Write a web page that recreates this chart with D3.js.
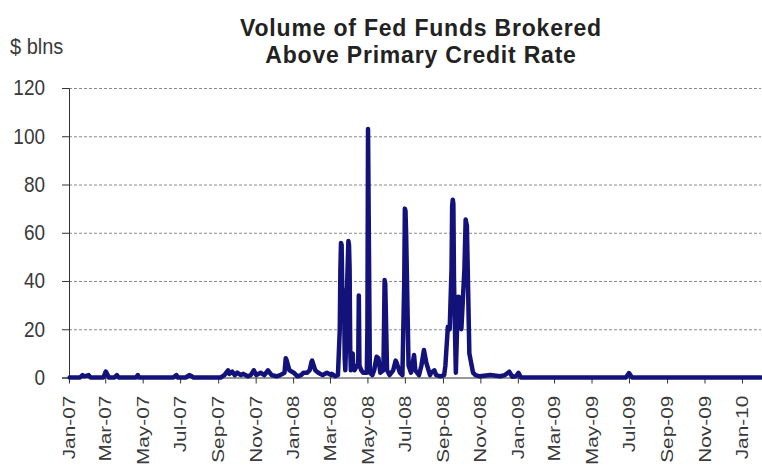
<!DOCTYPE html>
<html>
<head>
<meta charset="utf-8">
<script src="https://cdn.jsdelivr.net/npm/d3@7"></script>
<style>
  body { margin: 0; background: #fff; }
  text { font-family: "Liberation Sans", Arial, sans-serif; }
</style>
</head>
<body>
<svg width="762" height="468"></svg>
<script>
// volume brokered above primary credit rate, $ blns
let dates = [
  '2007-01-02', '2007-01-19', '2007-01-23', '2007-01-26', '2007-02-02', '2007-02-05',
  '2007-02-26', '2007-03-02', '2007-03-07', '2007-03-16', '2007-03-20', '2007-03-23',
  '2007-04-20', '2007-04-23', '2007-04-25', '2007-06-20', '2007-06-25', '2007-06-27',
  '2007-07-10', '2007-07-16', '2007-07-20', '2007-07-23',
  '2007-09-05', '2007-09-11', '2007-09-17', '2007-09-19', '2007-09-24', '2007-09-28',
  '2007-10-02', '2007-10-08', '2007-10-12', '2007-10-19', '2007-10-24', '2007-10-29',
  '2007-11-02', '2007-11-09', '2007-11-15', '2007-11-21', '2007-11-27', '2007-12-05',
  '2007-12-11', '2007-12-18', '2007-12-20', '2007-12-21', '2007-12-26', '2008-01-02',
  '2008-01-08', '2008-01-14', '2008-01-18', '2008-01-24', '2008-01-28', '2008-01-31',
  '2008-02-01', '2008-02-06', '2008-02-11', '2008-02-18', '2008-02-25', '2008-03-03',
  '2008-03-04', '2008-03-10', '2008-03-14', '2008-03-17', '2008-03-18', '2008-03-19',
  '2008-03-20', '2008-03-21', '2008-03-24', '2008-03-25', '2008-03-26', '2008-03-27',
  '2008-03-28', '2008-03-31', '2008-04-01', '2008-04-02', '2008-04-03', '2008-04-04',
  '2008-04-07', '2008-04-08', '2008-04-10', '2008-04-14', '2008-04-16', '2008-04-17',
  '2008-04-18', '2008-04-21', '2008-04-24', '2008-04-28', '2008-04-30', '2008-05-01',
  '2008-05-02', '2008-05-05', '2008-05-09', '2008-05-12', '2008-05-16', '2008-05-19',
  '2008-05-22', '2008-05-27', '2008-05-28', '2008-05-29', '2008-05-30', '2008-06-02',
  '2008-06-06', '2008-06-12', '2008-06-16', '2008-06-17', '2008-06-23', '2008-06-27',
  '2008-06-30', '2008-07-01', '2008-07-02', '2008-07-03', '2008-07-07', '2008-07-11',
  '2008-07-16', '2008-07-18', '2008-07-24', '2008-07-28', '2008-08-01', '2008-08-05',
  '2008-08-11', '2008-08-13', '2008-08-18', '2008-08-21', '2008-08-28', '2008-09-03',
  '2008-09-05', '2008-09-09', '2008-09-12', '2008-09-15', '2008-09-16', '2008-09-17',
  '2008-09-18', '2008-09-19', '2008-09-22', '2008-09-24', '2008-09-26', '2008-09-29',
  '2008-10-01', '2008-10-03', '2008-10-06', '2008-10-08', '2008-10-09', '2008-10-10',
  '2008-10-14', '2008-10-17', '2008-10-20', '2008-10-24', '2008-10-31', '2008-11-17',
  '2008-12-03', '2008-12-11', '2008-12-18', '2008-12-23', '2008-12-29', '2009-01-02',
  '2009-01-06', '2009-06-26', '2009-07-01', '2009-07-06', '2010-02-01',
];
let volumes = [
  0, 0, 1, 0.5, 1, 0,
  0, 2.5, 0, 0, 1, 0,
  0, 1, 0, 0, 1, 0,
  0, 1, 0.5, 0,
  0, 1, 3, 1.5, 2.4, 1,
  2, 1, 1.5, 0.5, 1, 3,
  1, 2, 1, 3, 1, 0.5,
  1, 2, 8, 7.5, 3, 2,
  0.5, 1, 2, 2, 3, 6.5,
  7, 3, 2, 1, 2, 1,
  1.5, 0.5, 1, 20, 45, 55.8,
  55, 37, 35, 8, 3, 12,
  30, 56.6, 55, 45, 12, 3,
  10, 4, 3, 5, 5, 34,
  5, 3, 2, 2, 2, 20,
  103, 2, 1, 3, 8.6, 8,
  2, 3, 20, 40.4, 39, 3,
  1, 3, 7, 6.5, 2, 1,
  40, 70, 69, 60, 5, 2,
  9.3, 3, 1, 5, 11.4, 6,
  1, 2, 3, 1, 0.5, 1,
  5, 21, 20, 45, 71, 73.7,
  72, 40, 2, 20, 33.5, 33,
  20, 30, 45, 65.5, 64, 63,
  10, 6, 2, 1, 0.5, 1,
  0.5, 1, 2.4, 0.3, 0.5, 1.9,
  0, 0, 1.8, 0, 0,
];
let yTicks = [0, 20, 40, 60, 80, 100, 120];
let xTicks = [
  '2007-01-01', '2007-03-01', '2007-05-01', '2007-07-01', '2007-09-01', '2007-11-01',
  '2008-01-01', '2008-03-01', '2008-05-01', '2008-07-01', '2008-09-01', '2008-11-01',
  '2009-01-01', '2009-03-01', '2009-05-01', '2009-07-01', '2009-09-01', '2009-11-01',
  '2010-01-01',
];
let titleLines = ['Volume of Fed Funds Brokered', 'Above Primary Credit Rate'];

let parse = d3.timeParse('%Y-%m-%d');
let data = dates.map((d, i) => ({ date: parse(d), value: volumes[i] }));

let plotLeft = 69;
let plotRight = 761;
let plotTop = 88;
let plotBottom = 377.5;

let svg = d3.select('svg');

let xScale = d3
  .scaleTime()
  .domain([parse('2007-01-01'), parse('2010-02-01')])
  .range([plotLeft, plotRight]);

let yScale = d3.scaleLinear().domain([0, 120]).range([plotBottom, plotTop]);

// dashed grid
svg
  .append('g')
  .attr('transform', `translate(${plotLeft},0)`)
  .call(d3.axisLeft(yScale).tickValues(yTicks.filter((d) => d > 0)).tickSize(-(plotRight - plotLeft)).tickFormat(''))
  .call((g) => g.select('.domain').remove())
  .selectAll('line')
  .attr('stroke', '#8a8a8a')
  .attr('stroke-dasharray', '3,2');

// y axis
let yAxis = svg
  .append('g')
  .attr('transform', `translate(${plotLeft},0)`)
  .call(d3.axisLeft(yScale).tickValues(yTicks).tickSize(7).tickPadding(17));

yAxis.selectAll('line, path').attr('stroke', '#333');
yAxis
  .selectAll('text')
  .attr('font-size', 19)
  .attr('fill', '#3a3a3a')
  .attr('font-family', '"Liberation Sans", Arial, sans-serif')
  .attr('transform', 'scale(1,1.12)');

// x axis
let xAxis = svg
  .append('g')
  .attr('transform', `translate(0,${plotBottom})`)
  .call(d3.axisBottom(xScale).tickValues(xTicks.map(parse)).tickSize(6).tickSizeOuter(0).tickFormat(d3.timeFormat('%b-%y')));

xAxis.selectAll('line, path').attr('stroke', '#333');
xAxis
  .selectAll('text')
  .attr('font-size', 16)
  .attr('fill', '#3a3a3a')
  .attr('font-family', '"Liberation Sans", Arial, sans-serif')
  .attr('text-anchor', 'end')
  .attr('x', -14)
  .attr('y', 0)
  .attr('dy', '0.35em')
  .attr('transform', 'scale(1,1.3) rotate(-90)');

// series
let line = d3
  .line()
  .x((d) => xScale(d.date))
  .y((d) => yScale(d.value));

svg
  .append('path')
  .datum(data)
  .attr('fill', 'none')
  .attr('stroke', '#12127a')
  .attr('stroke-width', 4.5)
  .attr('stroke-linejoin', 'round')
  .attr('stroke-linecap', 'round')
  .attr('d', line);

// titles
svg
  .append('g')
  .selectAll('text')
  .data(titleLines)
  .enter()
  .append('text')
  .attr('text-anchor', 'middle')
  .attr('font-size', 23)
  .attr('font-weight', 'bold')
  .attr('letter-spacing', 0.8)
  .attr('fill', '#222')
  .attr('transform', (d, i) => `translate(421,${36 + i * 27}) scale(1,1.05)`)
  .text((d) => d);

svg
  .append('text')
  .attr('transform', 'translate(10,54) scale(1,1.1)')
  .attr('font-size', 20)
  .attr('fill', '#3a3a3a')
  .text('$ blns');
</script>
</body>
</html>
